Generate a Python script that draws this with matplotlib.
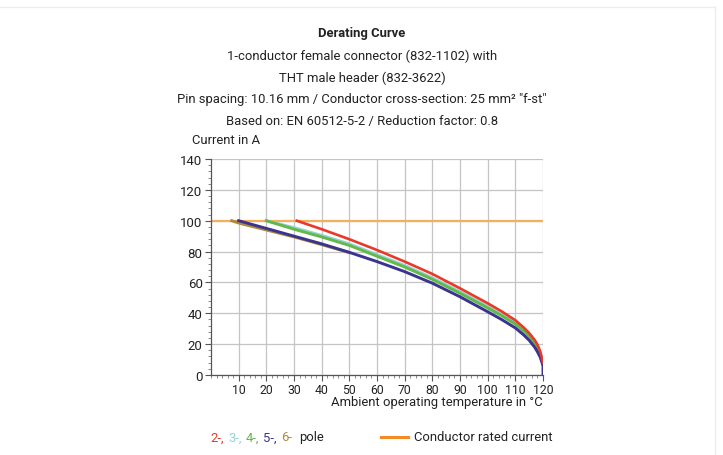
import matplotlib
matplotlib.use('Agg')
import matplotlib.pyplot as plt
from matplotlib.ticker import AutoMinorLocator
from matplotlib.lines import Line2D

plt.rcParams.update({'font.family': ['Roboto', 'DejaVu Sans'], 'font.size': 9})

W, H = 723, 456

# --- data ---
temp_2p = [31, 40, 50, 60, 70, 80, 90, 100, 105, 110, 113, 115, 117, 118, 119, 120]
amps_2p = [100, 94.5, 88, 81, 73.5, 65.5, 56.2, 46.5, 41.3, 35.5, 30.8, 27.2, 22.7, 19.7, 15.3, 8]

temp_3p = [20, 30, 40, 50, 60, 70, 80, 90, 100, 105, 110, 113, 115, 117, 118, 119, 120]
amps_3p = [100, 95.5, 90.5, 85, 78, 71, 63, 54, 44.5, 39.3, 33.8, 29.3, 25.8, 21.3, 18.3, 14.3, 7.5]

temp_4p = [20, 30, 40, 50, 60, 70, 80, 90, 100, 105, 110, 113, 115, 117, 118, 119, 120]
amps_4p = [100, 94.5, 89.5, 84, 77, 70, 62, 53, 43.5, 38.5, 33, 28.5, 25, 20.5, 17.5, 13.5, 7]

temp_5p = [10, 20, 30, 40, 50, 60, 70, 80, 90, 100, 105, 110, 113, 115, 117, 118, 119, 120, 120]
amps_5p = [100, 95, 90, 85, 79.5, 73.5, 67, 59.5, 50.7, 41, 36, 30.5, 26, 22.5, 18, 15, 11.5, 6, 0]

temp_6p = [7.5, 10, 20, 30, 40, 50]
amps_6p = [100, 98.5, 94, 89.5, 84.5, 79.3]

temp_rated = [0, 120]
amps_rated = [100, 100]

x_ticks = list(range(10, 121, 10))
y_ticks = list(range(0, 141, 20))

C_2 = '#e8392b'
C_3 = '#93d3d4'
C_4 = '#62b94a'
C_5 = '#3a3490'
C_6 = '#ad8a3c'
C_RATED = '#f4b05c'
C_RATED_LEG = '#f28a26'
C_TXT = '#222222'

fig = plt.figure(figsize=(W / 100, H / 100), dpi=100)
ax = fig.add_axes([211 / W, 1 - 376 / H, (543 - 211) / W, (376 - 160) / H])

ax.plot(temp_rated, amps_rated, color=C_RATED, lw=1.6, zorder=2)
ax.plot(temp_3p, amps_3p, color=C_3, lw=2.1, zorder=3)
ax.plot(temp_4p, amps_4p, color=C_4, lw=2.1, zorder=4)
ax.plot(temp_6p, amps_6p, color=C_6, lw=2.1, zorder=5)
ax.plot(temp_5p, amps_5p, color=C_5, lw=2.1, zorder=6)
ax.plot(temp_2p, amps_2p, color=C_2, lw=1.9, zorder=7)

ax.set_xlim(0, 120)
ax.set_ylim(0, 140)
ax.set_xticks(x_ticks)
ax.set_yticks(y_ticks)
ax.xaxis.set_minor_locator(AutoMinorLocator(5))
ax.yaxis.set_minor_locator(AutoMinorLocator(5))
ax.grid(True, which='major', color='#c4c4c4', lw=0.9, zorder=0)
ax.set_axisbelow(True)
for s in ('top', 'right'):
    ax.spines[s].set_visible(False)
for s in ('left', 'bottom'):
    ax.spines[s].set_color('#555555')
    ax.spines[s].set_linewidth(0.9)
ax.tick_params(which='major', length=4, width=0.8, color='#555555',
               labelcolor=C_TXT, pad=2)
ax.tick_params(axis='y', which='major', labelsize=9.5)
ax.tick_params(axis='x', which='major', labelsize=8.8, pad=1.5)
ax.tick_params(which='minor', length=2, width=0.6, color='#777777')

# titles
title_lines = ['1-conductor female connector (832-1102) with',
               'THT male header (832-3622)',
               'Pin spacing: 10.16 mm / Conductor cross-section: 25 mm\u00b2 "f-st"',
               'Based on: EN 60512-5-2 / Reduction factor: 0.8']
fig.text(362 / W, 1 - 33 / H, 'Derating Curve', ha='center', va='center',
         fontsize=9.4, fontweight='bold', color=C_TXT)
for i, line in enumerate(title_lines):
    fig.text(362 / W, 1 - (56 + 22 * i) / H, line, ha='center', va='center',
             fontsize=9.4, color=C_TXT)

fig.text(192 / W, 1 - 140 / H, 'Current in A', ha='left', va='center',
         fontsize=9.4, color=C_TXT)
fig.text(543 / W, 1 - 403 / H, 'Ambient operating temperature in \u00b0C',
         ha='right', va='center', fontsize=9.4, color=C_TXT)

# legend
leg_y = 1 - 438 / H
pole_labels = ['2-,', '3-,', '4-,', '5-,', '6-']
pole_colors = [C_2, C_3, C_4, C_5, C_6]
pole_x = [210, 228, 246, 263, 281]
for lab, col, px in zip(pole_labels, pole_colors, pole_x):
    fig.text(px / W, leg_y, lab, ha='left', va='center', fontsize=9.4, color=col)
fig.text(299 / W, leg_y, 'pole', ha='left', va='center', fontsize=9.4, color=C_TXT)
fig.add_artist(Line2D([381 / W, 408 / W], [leg_y, leg_y], color=C_RATED_LEG, lw=2.2))
fig.text(414 / W, leg_y, 'Conductor rated current', ha='left', va='center',
         fontsize=9.4, color=C_TXT)

# faint frame around the chart card
fig.add_artist(Line2D([0, 715 / W], [1 - 8 / H, 1 - 8 / H], color='#ececec', lw=1))
fig.add_artist(Line2D([715 / W, 715 / W], [1 - 8 / H, 0], color='#ececec', lw=1))

fig.savefig('out.png', dpi=100, facecolor='white')
